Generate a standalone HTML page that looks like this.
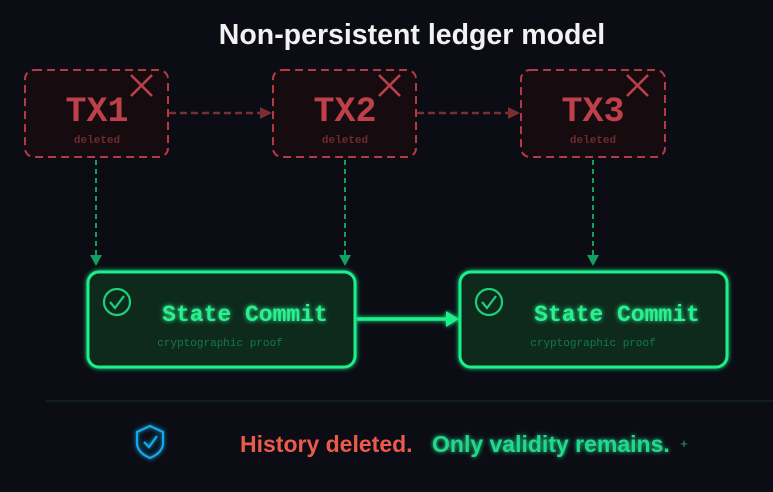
<!DOCTYPE html>
<html><head><style>
html,body{margin:0;padding:0;background:#0b0c14;width:773px;height:492px;overflow:hidden}
svg{display:block}
</style></head><body>
<svg width="773" height="492" viewBox="0 0 773 492" xmlns="http://www.w3.org/2000/svg">
<defs>
<filter id="g" x="-20%" y="-50%" width="140%" height="200%"><feGaussianBlur stdDeviation="2.5" result="b"/><feMerge><feMergeNode in="b"/><feMergeNode in="SourceGraphic"/></feMerge></filter>
</defs>
<rect width="773" height="492" fill="#0b0c14"/>
<text x="412" y="44" text-anchor="middle" font-family="Liberation Sans, sans-serif" font-weight="bold" font-size="28.5" fill="#f2f2f2">Non-persistent ledger model</text>

<g font-family="Liberation Mono, monospace" font-weight="bold">
<rect x="25" y="70" width="143" height="87" rx="9" fill="#160c10" stroke="#b23c44" stroke-width="2" stroke-dasharray="8,5"/>
<rect x="273" y="70" width="143" height="87" rx="9" fill="#160c10" stroke="#b23c44" stroke-width="2" stroke-dasharray="8,5"/>
<rect x="521" y="70" width="144" height="87" rx="9" fill="#160c10" stroke="#b23c44" stroke-width="2" stroke-dasharray="8,5"/>
<text x="97" y="121" text-anchor="middle" font-size="35" fill="#c0404a">TX1</text>
<text x="345" y="121" text-anchor="middle" font-size="35" fill="#c0404a">TX2</text>
<text x="593" y="121" text-anchor="middle" font-size="35" fill="#c0404a">TX3</text>
<text x="97" y="143" text-anchor="middle" font-size="11" fill="#6e2a30">deleted</text>
<text x="345" y="143" text-anchor="middle" font-size="11" fill="#6e2a30">deleted</text>
<text x="593" y="143" text-anchor="middle" font-size="11" fill="#6e2a30">deleted</text>
<g stroke="#c0404a" stroke-width="2.5">
<line x1="131" y1="75" x2="152" y2="96"/><line x1="152" y1="75" x2="131" y2="96"/>
<line x1="379" y1="75" x2="400" y2="96"/><line x1="400" y1="75" x2="379" y2="96"/>
<line x1="627" y1="75" x2="648" y2="96"/><line x1="648" y1="75" x2="627" y2="96"/>
</g>
</g>
<g stroke="#7a2e34" stroke-width="2.5" stroke-dasharray="7,4">
<line x1="169" y1="113" x2="262" y2="113"/>
<line x1="417" y1="113" x2="510" y2="113"/>
</g>
<polygon points="260,107 272,113 260,119" fill="#7a2e34"/>
<polygon points="508,107 520,113 508,119" fill="#7a2e34"/>
<g stroke="#10a060" stroke-width="2" stroke-dasharray="5,4">
<line x1="96" y1="160" x2="96" y2="256"/>
<line x1="345" y1="160" x2="345" y2="256"/>
<line x1="593" y1="160" x2="593" y2="256"/>
</g>
<polygon points="90,255 102,255 96,266" fill="#10a060"/>
<polygon points="339,255 351,255 345,266" fill="#10a060"/>
<polygon points="587,255 599,255 593,266" fill="#10a060"/>
<g filter="url(#g)">
<rect x="88" y="272" width="267" height="95" rx="11" fill="#0b2a1a" stroke="#1cf08a" stroke-width="3"/>
<rect x="460" y="272" width="267" height="95" rx="11" fill="#0b2a1a" stroke="#1cf08a" stroke-width="3"/>
<line x1="357" y1="319" x2="448" y2="319" stroke="#1cf08a" stroke-width="3.5"/>
<polygon points="446,311 459,319 446,327" fill="#1cf08a"/>
</g>
<g fill="none" stroke="#1cd07a" stroke-width="2.2">
<circle cx="117" cy="302" r="13"/><polyline points="110,302 115,308 124,296"/>
<circle cx="489" cy="302" r="13"/><polyline points="482,302 487,308 496,296"/>
</g>
<g font-family="Liberation Mono, monospace" filter="url(#g)">
<text x="245" y="321" text-anchor="middle" font-size="23" font-weight="bold" fill="#2cf090">State Commit</text>
<text x="617" y="321" text-anchor="middle" font-size="23" font-weight="bold" fill="#2cf090">State Commit</text>
</g>
<g font-family="Liberation Mono, monospace" font-size="11" fill="#167a48">
<text x="220" y="346" text-anchor="middle">cryptographic proof</text>
<text x="593" y="346" text-anchor="middle">cryptographic proof</text>
</g>
<line x1="45" y1="401" x2="773" y2="401" stroke="#142320" stroke-width="1.5"/>
<g filter="url(#g)">
<path d="M150,426 L163,432 L163,444 Q162,453 150,458 Q138,453 137,444 L137,432 Z" fill="none" stroke="#18a8e8" stroke-width="2.2"/>
<polyline points="144,442 149,447 157,436" fill="none" stroke="#18a8e8" stroke-width="2.2"/>
</g>
<text x="240" y="452" font-family="Liberation Sans, sans-serif" font-weight="bold" font-size="23" fill="#ec5a4c">History deleted.</text>
<text x="432" y="452" font-family="Liberation Sans, sans-serif" font-weight="bold" font-size="23" fill="#22d88c" filter="url(#g)">Only validity remains.</text>
<text x="684" y="448" text-anchor="middle" font-family="Liberation Sans, sans-serif" font-size="13" fill="#22a870">+</text>
</svg>
</body></html>
